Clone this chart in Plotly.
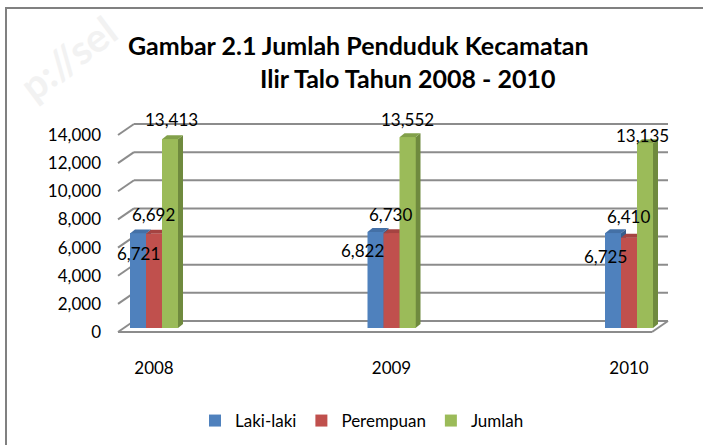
import plotly.graph_objects as go

# ---------------- data ----------------
years = ["2008", "2009", "2010"]
laki_laki = [6721, 6822, 6725]
perempuan = [6692, 6730, 6410]
jumlah = [13413, 13552, 13135]
series_names = ["Laki-laki", "Perempuan", "Jumlah"]
y_tick_values = [0, 2000, 4000, 6000, 8000, 10000, 12000, 14000]
title_line1 = "Gambar 2.1 Jumlah Penduduk Kecamatan"
title_line2 = "Ilir Talo Tahun 2008 - 2010"

series_values = [laki_laki, perempuan, jumlah]

# ---------------- style / geometry ----------------
front_colors = ["#4F81BD", "#C0504D", "#9BBB59"]
side_colors = ["#385E8C", "#8E3B39", "#6F8A3E"]
top_colors = ["#4470A6", "#A54341", "#82A04A"]
grid_color = "#8C8C8C"
FONT = "Lato"

W, H = 703, 445
ML, MR, MT, MB = 110, 23, 105, 105
PW, PH = W - ML - MR, H - MT - MB

# pixel geometry (page pixels; body margin is removed by post_script)
Y0_PX = 332.0                 # pixel row of value 0 on the front plane
PX_PER_VAL = 197.0 / 14000.0  # vertical scale
CAT0_PX, CAT_STEP_PX = 154.0, 237.5


def xu(px):
    return (px - CAT0_PX) / CAT_STEP_PX


def vu(py):
    return (Y0_PX - py) / PX_PER_VAL


def pdx(d):
    return d / CAT_STEP_PX


def pdy(d):
    return d / PX_PER_VAL


def paper_x(px):
    return (px - ML) / PW


def paper_y(py):
    return (H - MB - py) / PH


BW = pdx(16)            # bar width
BASE = pdy(4)           # bar base offset (depth position)
DDX, DDY = pdx(5), pdy(4)   # bar depth
WALL_L_FRONT, WALL_L_BACK = xu(118), xu(134)
WALL_R_FRONT, WALL_R_BACK = xu(652), xu(668)
WDY = pdy(11)

label_xshift = [[0, -13, -8], [-1, -1, -1], [1, 0, -3]]
label_yshift = [[-20, -18, -23], [19, 19, 21], [20, 18, 8]]

fig = go.Figure()

# real bar traces (front faces, legend)
for k, name in enumerate(series_names):
    xs = [i + (k - 1) * BW for i in range(len(years))]
    fig.add_trace(go.Bar(
        x=xs, y=series_values[k], base=[BASE] * len(years), width=BW,
        name=name, marker=dict(color=front_colors[k], line=dict(width=0)),
        hovertemplate=name + " %{customdata}: %{y:,}<extra></extra>",
        customdata=years,
    ))

# 3D faces drawn back-to-front (left to right)
for i in range(len(years)):
    for k in range(len(series_names)):
        v = series_values[k][i]
        xc = i + (k - 1) * BW
        x0, x1 = xc - BW / 2, xc + BW / 2
        y0, y1 = BASE, BASE + v
        fig.add_trace(go.Scatter(
            x=[x1, x1 + DDX, x1 + DDX, x1, x1],
            y=[y0, y0 + DDY, y1 + DDY, y1, y0],
            fill="toself", fillcolor=side_colors[k], mode="lines",
            line=dict(width=0, color=side_colors[k]),
            showlegend=False, hoverinfo="skip"))
        fig.add_trace(go.Scatter(
            x=[x0, x0 + DDX, x1 + DDX, x1, x0],
            y=[y1, y1 + DDY, y1 + DDY, y1, y1],
            fill="toself", fillcolor=top_colors[k], mode="lines",
            line=dict(width=0, color=top_colors[k]),
            showlegend=False, hoverinfo="skip"))
        fig.add_trace(go.Scatter(
            x=[x0, x1, x1, x0, x0],
            y=[y0, y0, y1, y1, y0],
            fill="toself", fillcolor=front_colors[k], mode="lines",
            line=dict(width=0, color=front_colors[k]),
            showlegend=False, hoverinfo="skip"))

shapes = []
for v in y_tick_values:
    shapes.append(dict(type="line", xref="x", yref="y", layer="below",
                       x0=WALL_L_FRONT, y0=v, x1=WALL_L_BACK, y1=v + WDY,
                       line=dict(color=grid_color, width=2)))
    shapes.append(dict(type="line", xref="x", yref="y", layer="below",
                       x0=WALL_L_BACK, y0=v + WDY, x1=WALL_R_BACK, y1=v + WDY,
                       line=dict(color=grid_color, width=2)))
shapes.append(dict(type="line", xref="x", yref="y", layer="below",
                   x0=WALL_L_FRONT, y0=0, x1=WALL_R_FRONT, y1=0,
                   line=dict(color=grid_color, width=2)))
shapes.append(dict(type="line", xref="x", yref="y", layer="below",
                   x0=WALL_R_FRONT, y0=0, x1=WALL_R_BACK, y1=WDY,
                   line=dict(color=grid_color, width=2)))
# outer frame
shapes.append(dict(type="rect", xref="paper", yref="paper", layer="below",
                   x0=paper_x(6), y0=paper_y(480), x1=paper_x(740), y1=paper_y(8),
                   line=dict(color="#808080", width=2), fillcolor="rgba(0,0,0,0)"))

annotations = []
annotations.append(dict(x=paper_x(68), y=paper_y(58), xref="paper", yref="paper",
                        text="p://sel", showarrow=False, textangle=-37,
                        xanchor="center", yanchor="middle",
                        font=dict(family=FONT, size=40, color="#F2F2F2", weight="bold")))
for k in range(len(series_names)):
    for i in range(len(years)):
        v = series_values[k][i]
        annotations.append(dict(
            x=i + (k - 1) * BW, y=BASE + v, xref="x", yref="y",
            text=f"{v:,}", showarrow=False,
            xshift=label_xshift[k][i], yshift=label_yshift[k][i],
            font=dict(family=FONT, size=17, color="#000000")))

annotations.append(dict(x=paper_x(358), y=paper_y(45), xref="paper", yref="paper",
                        text=title_line1, showarrow=False, xanchor="center", yanchor="middle",
                        font=dict(family=FONT, size=25, color="#000000", weight="bold")))
annotations.append(dict(x=paper_x(408), y=paper_y(78), xref="paper", yref="paper",
                        text=title_line2, showarrow=False, xanchor="center", yanchor="middle",
                        font=dict(family=FONT, size=25, color="#000000", weight="bold")))

fig.update_layout(
    width=W, height=H,
    margin=dict(l=ML, r=MR, t=MT, b=MB, pad=0, autoexpand=False),
    paper_bgcolor="white", plot_bgcolor="rgba(0,0,0,0)",
    barmode="overlay", bargap=0,
    shapes=shapes, annotations=annotations,
    font=dict(family=FONT, size=17, color="#000000"),
    showlegend=True,
    legend=dict(orientation="h", x=paper_x(362), y=paper_y(421),
                xanchor="center", yanchor="middle",
                font=dict(family=FONT, size=17, color="#000000"),
                bgcolor="rgba(0,0,0,0)", itemwidth=30),
    xaxis=dict(range=[xu(ML), xu(W - MR)], tickmode="array",
               tickvals=list(range(len(years))), ticktext=years,
               showgrid=False, zeroline=False, showline=False, ticks="",
               tickfont=dict(family=FONT, size=17, color="#000000"),
               ticklabelstandoff=16, fixedrange=True, automargin=False),
    yaxis=dict(range=[vu(H - MB), vu(MT)], tickmode="array",
               tickvals=y_tick_values, tickformat=",",
               showgrid=False, zeroline=False, showline=False, ticks="",
               tickfont=dict(family=FONT, size=17, color="#000000"),
               ticklabelstandoff=8, fixedrange=True, automargin=False),
)

fig.write_html(
    "out.html",
    config={"displayModeBar": False},
    post_script="document.body.style.margin='0';document.body.style.padding='0';",
)
